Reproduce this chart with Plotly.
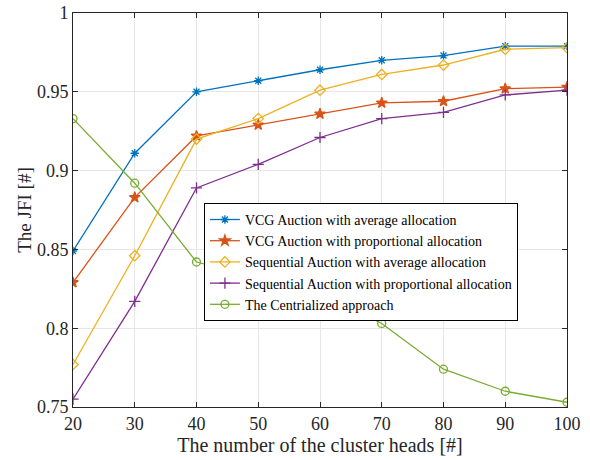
import plotly.graph_objects as go

x_vals = [20, 30, 40, 50, 60, 70, 80, 90, 100]
vcg_avg = [0.849, 0.911, 0.950, 0.957, 0.964, 0.970, 0.973, 0.979, 0.979]
vcg_prop = [0.829, 0.883, 0.922, 0.929, 0.936, 0.943, 0.944, 0.952, 0.953]
seq_avg = [0.777, 0.846, 0.920, 0.933, 0.951, 0.961, 0.967, 0.977, 0.978]
seq_prop = [0.755, 0.817, 0.889, 0.904, 0.921, 0.933, 0.937, 0.948, 0.951]
central = [0.933, 0.892, 0.842, 0.832, 0.822, 0.803, 0.774, 0.760, 0.753]

names = [
    "VCG Auction with average allocation",
    "VCG Auction with proportional allocation",
    "Sequential Auction with average allocation",
    "Sequential Auction with proportional allocation",
    "The Centrialized approach",
]
series = [vcg_avg, vcg_prop, seq_avg, seq_prop, central]
colors = ["#0072BD", "#D95319", "#EDB120", "#7E2F8E", "#77AC30"]
symbols = ["asterisk-open", "star", "diamond-open", "cross-thin-open", "circle-open"]
sizes = [7, 8, 8, 8, 8]

SERIF = "Liberation Serif, Times New Roman, serif"

fig = go.Figure()
for n, s, c, sym, sz in zip(names, series, colors, symbols, sizes):
    fig.add_trace(go.Scatter(
        x=x_vals, y=s, name=n, mode="lines+markers",
        line=dict(color=c, width=1.3),
        marker=dict(symbol=sym, size=sz, color=c, line=dict(color=c, width=1.3)),
    ))

axis_common = dict(
    showline=True, linecolor="#262626", linewidth=1, mirror="ticks",
    ticks="inside", ticklen=5, tickcolor="#262626",
    showgrid=True, gridcolor="#e6e6e6", gridwidth=1, zeroline=False,
    automargin=False,
    tickfont=dict(family=SERIF, size=18, color="#262626"),
)

fig.update_xaxes(range=[20, 100], tickvals=x_vals, **axis_common,
                 title=dict(text="The number of the cluster heads [#]",
                            font=dict(family=SERIF, size=20, color="#262626"),
                            standoff=2))
fig.update_yaxes(range=[0.75, 1], tickvals=[0.75, 0.8, 0.85, 0.9, 0.95, 1],
                 ticktext=["0.75", "0.8", "0.85", "0.9", "0.95", "1"], **axis_common,
                 title=dict(text="The JFI [#]",
                            font=dict(family=SERIF, size=19, color="#262626"),
                            standoff=0))

fig.update_layout(
    width=590, height=460,
    margin=dict(l=73, r=23, t=13, b=53),
    paper_bgcolor="white", plot_bgcolor="white",
    font=dict(family=SERIF, color="#000000"),
    legend=dict(x=0.265, y=0.518, xanchor="left", yanchor="top",
                bgcolor="white", bordercolor="#000000", borderwidth=1,
                font=dict(family=SERIF, size=14, color="#000000"),
                tracegroupgap=0, itemwidth=30),
    showlegend=True,
)

fig.write_html("out.html", config={"displayModeBar": False},
               post_script="document.body.style.margin='0';")
